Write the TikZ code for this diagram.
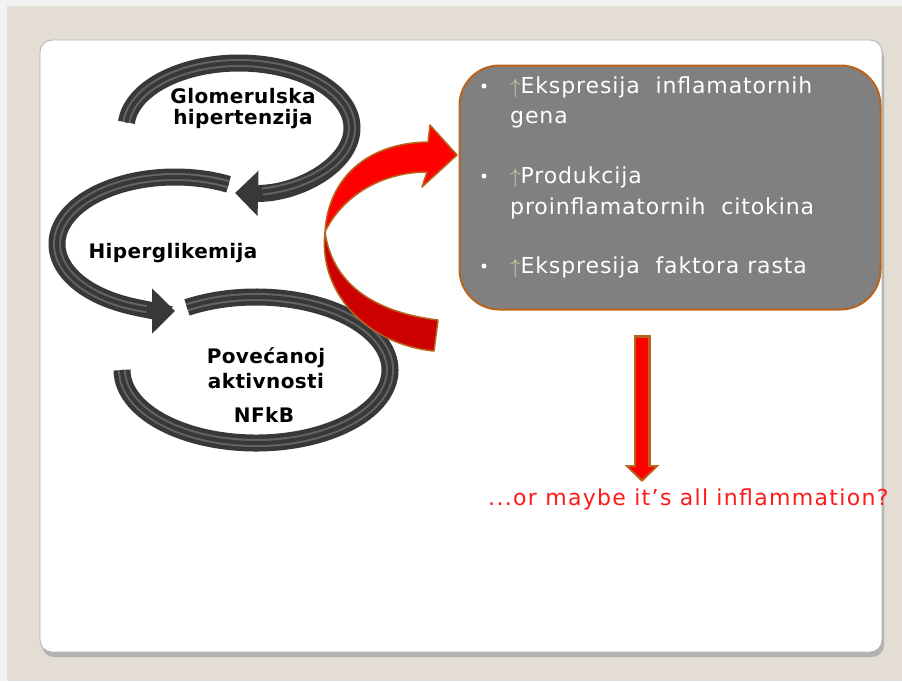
\documentclass[tikz,border=0pt]{standalone}
\usepackage{fontspec}
\setmainfont{DejaVu Sans}
\usetikzlibrary{positioning,calc,arrows.meta}
\definecolor{slidebg}{HTML}{E3DDD3}
\definecolor{topstrip}{HTML}{F2F2F2}
\definecolor{loopgray}{HTML}{383838}
\definecolor{shinegray}{HTML}{646464}
\definecolor{boxgray}{HTML}{808080}
\definecolor{rimbrown}{HTML}{B8641A}
\definecolor{darkred}{HTML}{CC0000}
\definecolor{uptan}{HTML}{D8CFA8}
\definecolor{qred}{HTML}{FF1A1A}
\tikzset{
  lbl/.style={font=\bfseries\fontsize{20}{23}\selectfont\addfontfeature{LetterSpace=2}, text=black, inner sep=0pt, anchor=base},
  itm/.style={font=\fontsize{22}{26}\selectfont\addfontfeature{LetterSpace=4}, text=white, inner sep=0pt, anchor=base west},
  qtxt/.style={font=\fontsize{22}{26}\selectfont\addfontfeature{LetterSpace=6}, text=qred, inner sep=0pt, anchor=base west},
  dot/.style={circle, fill=white, inner sep=0pt, minimum size=5pt},
  infobox/.style={rectangle, rounded corners=40pt, minimum width=421pt, minimum height=244pt, draw=rimbrown, line width=2pt, fill=boxgray},
  band/.style={line width=17pt, draw=loopgray},
  shine/.style={line width=8pt, draw=shinegray},
  core/.style={line width=4pt, draw=loopgray},
  loophead/.style={-{Triangle[length=23pt,width=44pt]}},
  ribbon/.style={draw=rimbrown, line width=1.5pt, line join=round}
}

\begin{document}
\begin{tikzpicture}[x=1pt,y=-1pt]
  \useasboundingbox (0,0) rectangle (902,681);
  % slide
  \fill[topstrip] (0,0) rectangle (902,681);
  \fill[slidebg] (7,6) rectangle (902,681);
  \fill[gray!60, rounded corners=12pt] (42,45) rectangle (884,657);
  \filldraw[fill=white, draw=gray!60, line width=0.8pt, rounded corners=12pt] (40,40) rectangle (882,652);

  % loop centres
  \coordinate (c1) at (239,128);
  \coordinate (c2) at (175,244);
  \coordinate (c3) at (256,370);

  % bottom loop
  \draw[band] ($(c3)+(239:134 and 73)$) arc[start angle=239, end angle=540, x radius=134, y radius=73];
  \draw[shine] ($(c3)+(239:134 and 73)$) arc[start angle=239, end angle=540, x radius=134, y radius=73];
  \draw[core] ($(c3)+(239:134 and 73)$) arc[start angle=239, end angle=540, x radius=134, y radius=73];

  % middle loop
  \draw[band,loophead] ($(c2)+(297:118 and 67)$) arc[start angle=297, end angle=90, x radius=118, y radius=67];
  \draw[shine] ($(c2)+(297:118 and 67)$) arc[start angle=297, end angle=104, x radius=118, y radius=67];
  \draw[core] ($(c2)+(297:118 and 67)$) arc[start angle=297, end angle=104, x radius=118, y radius=67];

  % top loop
  \draw[band,loophead] ($(c1)+(185:113 and 65)$) arc[start angle=185, end angle=452, x radius=113, y radius=65];
  \draw[shine] ($(c1)+(185:113 and 65)$) arc[start angle=185, end angle=438, x radius=113, y radius=65];
  \draw[core] ($(c1)+(185:113 and 65)$) arc[start angle=185, end angle=438, x radius=113, y radius=65];

  \node[lbl] (glom) at (243,103) {Glomerulska};
  \node[lbl] (hipt) at (243,124) {hipertenzija};
  \node[lbl] (hipg) at (173,258) {Hiperglikemija};
  \node[lbl] (povc) at (266,363) {Povećanoj};
  \node[lbl] (aktv) at (266,388) {aktivnosti};
  \node[lbl] (nfkb) at (264,422) {NFkB};

  % box with effects
  \node[infobox] (box) at (670,187.5) {};
  \node[dot] (b1) at (484,86) {};
  \node[itm] (t1a) at (510,93) {{\color{uptan}$\uparrow$}Ekspresija\ \ inflamatornih};
  \node[itm] (t1b) at (510,123) {gena};
  \node[dot] (b2) at (484,176) {};
  \node[itm] (t2a) at (510,183) {{\color{uptan}$\uparrow$}Produkcija};
  \node[itm] (t2b) at (510,214) {proinflamatornih\ \ citokina};
  \node[dot] (b3) at (484,266) {};
  \node[itm] (t3) at (510,273) {{\color{uptan}$\uparrow$}Ekspresija\ \ faktora rasta};

  % red ribbon arrow
  \filldraw[ribbon, fill=red] (325,232) .. controls (328,180) and (365,143) .. (428,142) -- (430,125) -- (457,155) -- (422,187) -- (427,172) .. controls (382,172) and (342,196) .. (325,232) -- cycle;
  \filldraw[ribbon, fill=darkred] (325,232) .. controls (318,295) and (370,345) .. (434,351) -- (438,320) .. controls (380,313) and (333,288) .. (325,232) -- cycle;

  % down arrow
  \coordinate (dtop) at (642,335);
  \coordinate (dtip) at (642,482);
  \draw[line width=17pt, draw=rimbrown, -{Triangle[length=17pt,width=34pt]}] (dtop) -- (dtip);
  \draw[line width=12pt, draw=red, shorten >=3pt, -{Triangle[length=12pt,width=25pt]}] ([yshift=-2.5pt]dtop) -- (dtip);

  \node[qtxt] (q) at (488,505) {...or maybe it’s all inflammation?};
\end{tikzpicture}
\end{document}
